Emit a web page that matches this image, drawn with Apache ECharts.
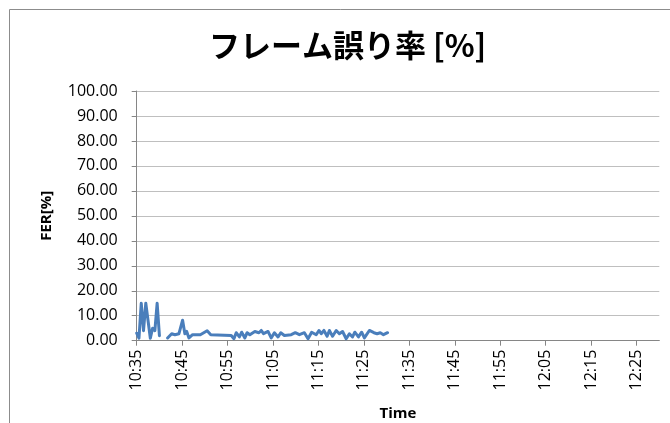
<!DOCTYPE html>
<html>
<head>
<meta charset="utf-8">
<script src="https://cdn.jsdelivr.net/npm/echarts@6/dist/echarts.min.js"></script>
<style>
  html, body { margin: 0; padding: 0; background: #fff; }
  #chart { width: 670px; height: 423px; }
</style>
</head>
<body>
<div id="chart"></div>
<script>
// Frame error rate samples (time of day, FER in %); null marks a gap in the log
const sampleTimes = [
  "10:35:00", "10:35:30", "10:36:00", "10:36:30", "10:37:00", "10:37:30",
  "10:38:00", "10:38:30", "10:39:00", "10:39:30", "10:40:00", "10:40:30",
  "10:41:48", "10:42:42", "10:43:24", "10:44:18", "10:45:06", "10:45:36",
  "10:46:00", "10:46:30", "10:47:18", "10:49:00", "10:50:30", "10:51:18",
  "10:55:48", "10:56:24", "10:56:54", "10:57:36", "10:58:06", "10:58:48",
  "10:59:18", "10:59:54", "11:01:00", "11:01:54", "11:02:24", "11:02:54",
  "11:03:54", "11:04:36", "11:05:18", "11:06:06", "11:06:42", "11:07:30",
  "11:09:00", "11:09:54", "11:10:48", "11:11:54", "11:12:42", "11:13:30",
  "11:14:30", "11:15:06", "11:15:36", "11:16:12", "11:16:54", "11:17:24",
  "11:18:06", "11:18:54", "11:19:36", "11:20:18", "11:21:06", "11:21:48",
  "11:22:30", "11:23:00", "11:23:48", "11:24:30", "11:25:06", "11:26:12",
  "11:27:12", "11:27:54", "11:28:36", "11:29:18", "11:30:12"
];
const ferValues = [
  3.0, 1.0, 15.0, 4.0, 15.0, 8.0,
  1.0, 5.0, 4.0, 15.0, 2.0, null,
  1.1, 2.8, 2.4, 2.8, 8.2, 2.8,
  3.7, 1.1, 2.4, 2.4, 4.0, 2.4,
  2.1, 0.8, 3.2, 1.5, 3.4, 1.1,
  3.2, 2.4, 3.7, 3.2, 4.1, 2.8,
  3.7, 1.1, 3.2, 1.5, 3.2, 2.1,
  2.4, 3.2, 2.4, 3.2, 0.8, 3.4,
  2.4, 4.1, 2.8, 4.1, 1.8, 4.1,
  1.8, 4.1, 2.8, 3.7, 0.8, 2.8,
  1.5, 3.4, 1.5, 3.4, 1.1, 4.1,
  3.2, 2.8, 3.2, 2.4, 3.2
];
// Tick labels along the time axis
const timeTicks = ["10:35", "10:45", "10:55", "11:05", "11:15", "11:25",
                   "11:35", "11:45", "11:55", "12:05", "12:15", "12:25"];
const axisStart = "10:35";
const axisEnd = "12:30";

// "HH:MM[:SS]" -> minutes of the day
function toMinutes(s) {
  const p = s.split(":").map(Number);
  return p[0] * 60 + p[1] + (p[2] || 0) / 60;
}
function fmtMinutes(v) {
  const h = Math.floor(v / 60);
  const m = Math.round(v - h * 60);
  return h + ":" + (m < 10 ? "0" : "") + m;
}

const seriesData = sampleTimes.map((t, i) => [toMinutes(t), ferValues[i]]);
const tickValues = timeTicks.map(toMinutes);

const labelFont = "'Open Sans', 'Liberation Sans', sans-serif";
const chart = echarts.init(document.getElementById("chart"), null, { renderer: "canvas" });

chart.setOption({
  animation: false,
  backgroundColor: "#ffffff",
  graphic: [{
    type: "rect",
    shape: { x: 9.5, y: 9.5, width: 700, height: 450 },
    style: { fill: "none", stroke: "#8c8c8c", lineWidth: 1 },
    silent: true
  }],
  title: {
    text: "フレーム誤り率 [%]",
    left: 204,
    top: 25,
    textStyle: {
      fontFamily: "'Noto Sans CJK JP', sans-serif",
      fontWeight: "bold",
      fontSize: 31,
      color: "#000"
    }
  },
  grid: { left: 136.7, right: 10.7, top: 91, bottom: 82.3, outerBoundsMode: "none" },
  xAxis: {
    type: "value",
    min: toMinutes(axisStart),
    max: toMinutes(axisEnd),
    name: "Time",
    nameLocation: "middle",
    nameGap: 66,
    nameTextStyle: { fontFamily: labelFont, fontWeight: "bold", fontSize: 15, color: "#000" },
    axisLine: { show: true, lineStyle: { color: "#868686", width: 1 } },
    axisTick: { show: true, length: 5, inside: false, customValues: tickValues,
                lineStyle: { color: "#868686" } },
    axisLabel: {
      customValues: tickValues,
      rotate: 90,
      margin: 9,
      fontFamily: labelFont,
      fontSize: 16,
      color: "#000",
      formatter: v => fmtMinutes(v)
    },
    splitLine: { show: false }
  },
  yAxis: {
    type: "value",
    min: 0,
    max: 100,
    interval: 10,
    name: "FER[%]",
    nameLocation: "middle",
    nameRotate: 90,
    nameGap: 82,
    nameTextStyle: { fontFamily: labelFont, fontWeight: "bold", fontSize: 15, color: "#000" },
    axisLine: { show: true, lineStyle: { color: "#868686", width: 1 } },
    axisTick: { show: true, length: 5, lineStyle: { color: "#868686" } },
    axisLabel: {
      margin: 19,
      fontFamily: labelFont,
      fontSize: 16,
      color: "#000",
      formatter: v => v.toFixed(2)
    },
    splitLine: { show: true, lineStyle: { color: "#bfbfbf", width: 1 } }
  },
  series: [{
    type: "line",
    data: seriesData,
    connectNulls: false,
    showSymbol: false,
    symbol: "none",
    lineStyle: { color: "#4a7ebb", width: 3, join: "round", cap: "round" },
    itemStyle: { color: "#4a7ebb" }
  }]
});
</script>
</body>
</html>
